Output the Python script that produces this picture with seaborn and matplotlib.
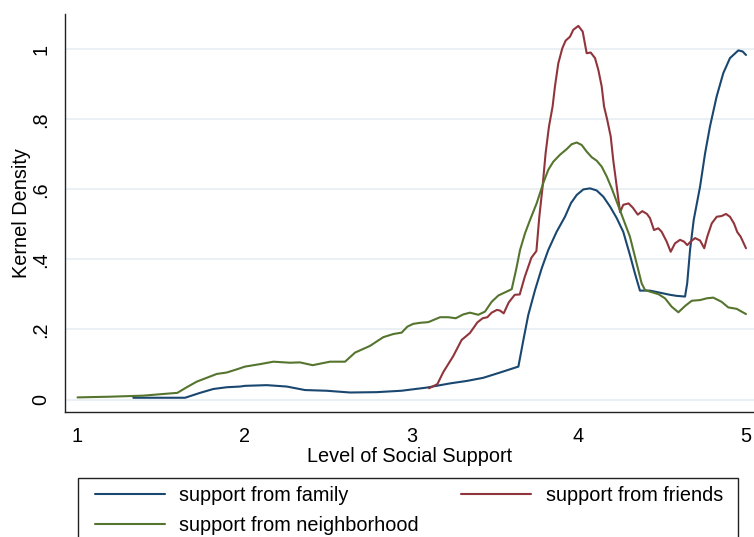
import matplotlib
matplotlib.use("Agg")
import matplotlib.pyplot as plt
from matplotlib.patches import Rectangle
import numpy as np
import pandas as pd
import seaborn as sns

# Kernel density estimates of perceived social support, by source
family_x = [1.334, 1.494, 1.644, 1.734, 1.813, 1.893, 1.973, 2.003, 2.133, 2.253,
            2.362, 2.492, 2.632, 2.792, 2.940, 3.091, 3.231, 3.331, 3.430, 3.530,
            3.640, 3.670, 3.699, 3.740, 3.780, 3.819, 3.869, 3.919, 3.955, 3.989,
            4.029, 4.069, 4.109, 4.149, 4.189, 4.229, 4.268, 4.308, 4.338, 4.368,
            4.428, 4.488, 4.548, 4.588, 4.638, 4.651, 4.668, 4.690, 4.728, 4.758,
            4.787, 4.827, 4.867, 4.907, 4.957, 4.983, 5.003]
family_y = [0.005, 0.005, 0.005, 0.019, 0.030, 0.035, 0.037, 0.039, 0.041, 0.037,
            0.027, 0.025, 0.020, 0.021, 0.025, 0.034, 0.046, 0.053, 0.062, 0.077,
            0.094, 0.170, 0.241, 0.313, 0.375, 0.427, 0.479, 0.522, 0.561, 0.584,
            0.600, 0.603, 0.597, 0.579, 0.551, 0.518, 0.479, 0.413, 0.360, 0.311,
            0.311, 0.305, 0.299, 0.296, 0.294, 0.332, 0.427, 0.513, 0.608, 0.703,
            0.779, 0.865, 0.932, 0.975, 0.997, 0.994, 0.984]

friends_x = [3.105, 3.155, 3.190, 3.250, 3.300, 3.350, 3.394, 3.426, 3.454, 3.480,
             3.512, 3.530, 3.552, 3.582, 3.618, 3.648, 3.678, 3.718, 3.748, 3.765,
             3.785, 3.803, 3.823, 3.845, 3.859, 3.879, 3.903, 3.923, 3.949, 3.969,
             3.999, 4.025, 4.049, 4.073, 4.099, 4.119, 4.139, 4.153, 4.172, 4.193,
             4.208, 4.229, 4.249, 4.268, 4.300, 4.325, 4.355, 4.382, 4.410, 4.428,
             4.452, 4.478, 4.498, 4.528, 4.552, 4.578, 4.608, 4.632, 4.651, 4.672,
             4.698, 4.728, 4.753, 4.771, 4.798, 4.828, 4.857, 4.883, 4.907, 4.931,
             4.951, 4.971, 5.003]
friends_y = [0.032, 0.044, 0.078, 0.124, 0.170, 0.190, 0.220, 0.232, 0.235, 0.248,
             0.256, 0.254, 0.246, 0.277, 0.299, 0.300, 0.350, 0.405, 0.424, 0.520,
             0.608, 0.703, 0.779, 0.837, 0.894, 0.960, 1.003, 1.025, 1.036, 1.056,
             1.067, 1.051, 0.989, 0.991, 0.975, 0.941, 0.894, 0.837, 0.799, 0.751,
             0.684, 0.608, 0.535, 0.556, 0.560, 0.548, 0.528, 0.538, 0.530, 0.518,
             0.484, 0.489, 0.479, 0.451, 0.422, 0.446, 0.456, 0.451, 0.441, 0.451,
             0.461, 0.454, 0.432, 0.465, 0.503, 0.522, 0.524, 0.530, 0.522, 0.503,
             0.478, 0.465, 0.432]

neighborhood_x = [1.000, 1.195, 1.394, 1.494, 1.598, 1.654, 1.714, 1.774, 1.834, 1.893,
                  1.953, 2.003, 2.093, 2.173, 2.272, 2.332, 2.408, 2.512, 2.602, 2.662,
                  2.751, 2.831, 2.891, 2.941, 2.975, 3.010, 3.051, 3.101, 3.171, 3.220,
                  3.265, 3.310, 3.350, 3.400, 3.440, 3.480, 3.520, 3.560, 3.600, 3.626,
                  3.650, 3.680, 3.710, 3.750, 3.789, 3.819, 3.849, 3.889, 3.929, 3.959,
                  3.989, 4.019, 4.049, 4.079, 4.109, 4.139, 4.169, 4.199, 4.229, 4.259,
                  4.308, 4.348, 4.378, 4.398, 4.428, 4.478, 4.518, 4.558, 4.598, 4.638,
                  4.678, 4.728, 4.768, 4.807, 4.857, 4.897, 4.947, 5.003]
neighborhood_y = [0.006, 0.008, 0.011, 0.015, 0.019, 0.035, 0.051, 0.062, 0.073, 0.077,
                  0.086, 0.094, 0.101, 0.108, 0.105, 0.106, 0.098, 0.108, 0.108, 0.134,
                  0.153, 0.178, 0.187, 0.191, 0.208, 0.216, 0.219, 0.221, 0.235, 0.235,
                  0.232, 0.243, 0.248, 0.242, 0.251, 0.279, 0.297, 0.306, 0.315, 0.370,
                  0.427, 0.475, 0.513, 0.561, 0.618, 0.656, 0.679, 0.699, 0.715, 0.729,
                  0.734, 0.727, 0.708, 0.692, 0.682, 0.665, 0.637, 0.603, 0.565, 0.527,
                  0.465, 0.389, 0.332, 0.313, 0.308, 0.301, 0.289, 0.265, 0.249, 0.267,
                  0.282, 0.284, 0.289, 0.291, 0.279, 0.263, 0.259, 0.244]

series_labels = ["support from family", "support from friends", "support from neighborhood"]
series_colors = ["#1a476f", "#90353b", "#55752f"]
x_ticks = [1, 2, 3, 4, 5]
y_ticks = [0, 0.2, 0.4, 0.6, 0.8, 1.0]
y_tick_labels = ["0", ".2", ".4", ".6", ".8", "1"]

sns.set_style("white")
plt.rcParams["font.family"] = ["Liberation Sans", "DejaVu Sans"]
plt.rcParams["text.color"] = "black"
plt.rcParams["axes.labelcolor"] = "black"

W, H = 754, 537
fig = plt.figure(figsize=(W / 100, H / 100), dpi=100)
ax = fig.add_axes([65 / W, 1 - 412 / H, (W - 65) / W, (412 - 14) / H])

curves = [(family_x, family_y), (friends_x, friends_y), (neighborhood_x, neighborhood_y)]
handles = {}
for (xs, ys), label, color in zip(curves, series_labels, series_colors):
    df = pd.DataFrame({"support": xs, "density": ys})
    sns.lineplot(data=df, x="support", y="density", color=color, linewidth=1.5,
                 sort=False, estimator=None, ax=ax, label=label, zorder=3)
    handles[label] = ax.lines[-1]
ax.get_legend().remove()

ax.set_xlim(0.925, 5.051)
ax.set_ylim(-0.0357, 1.101)
ax.set_xticks(x_ticks)
ax.set_xticklabels([str(t) for t in x_ticks])
ax.set_yticks(y_ticks)
ax.set_yticklabels(y_tick_labels, rotation=90, va="center")

ax.yaxis.grid(True, color="#e6eef1", linewidth=1.2, zorder=0)
ax.xaxis.grid(False)
ax.set_axisbelow(True)

for side in ("top", "right"):
    ax.spines[side].set_visible(False)
for side in ("left", "bottom"):
    ax.spines[side].set_color("#222222")
    ax.spines[side].set_linewidth(1.0)

ax.tick_params(axis="both", direction="out", length=5.5, width=1.0, color="#222222",
               labelsize=14.3, labelcolor="black", pad=5)
ax.set_xlabel("Level of Social Support", fontsize=14.3, labelpad=1, color="black")
ax.set_ylabel("Kernel Density", fontsize=14.3, labelpad=0, color="black")

# Legend below the plot: two columns, filled row by row
order = ["support from family", "support from neighborhood", "support from friends"]
fig.legend([handles[k] for k in order], order, ncol=2, loc="upper left",
           bbox_to_anchor=(95 / W, 1 - 486 / H, (723 - 95) / W, 0), mode="expand",
           frameon=False, borderpad=0, borderaxespad=0, fontsize=14.3,
           handlelength=3.5, handletextpad=0.75, labelspacing=0.55,
           labelcolor="black")
fig.add_artist(Rectangle((78 / W, -0.05), (738 - 78) / W, (1 - 478 / H) + 0.05,
                         transform=fig.transFigure, fill=False, edgecolor="#222222",
                         linewidth=1.0, clip_on=False))

fig.savefig("out.png", dpi=100, facecolor="white")
